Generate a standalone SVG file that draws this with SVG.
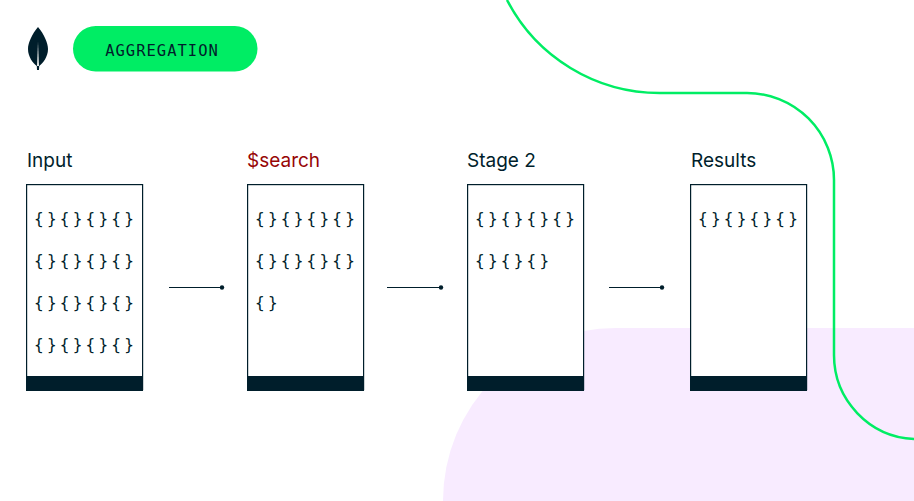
<svg xmlns="http://www.w3.org/2000/svg" width="914" height="501" viewBox="0 0 914 501">
<style>
.t{font-family:"Inter","Noto Sans","Liberation Sans",sans-serif;font-size:19px;fill:#001e2b}
.b{font-family:"DejaVu Sans Mono","Liberation Mono",monospace;font-size:16px;fill:#001e2b;letter-spacing:3.25px}
.box{fill:#fff;stroke:#001e2b;stroke-width:1.2}
.foot{fill:#001e2b}
.c{stroke:#001e2b;stroke-width:1.2;fill:none}
.d{fill:#001e2b}
</style>
<rect width="914" height="501" fill="#fff"/>
<path d="M443 501A173 173 0 0 1 616 328H914V501Z" fill="#f8ebff"/>
<path d="M507 0A172 172 0 0 0 660 93H747A87 87 0 0 1 834 180V355A84 84 0 0 0 914 439" fill="none" stroke="#00ed64" stroke-width="2.500"/>
<g id="logo">
<path d="M38 27C44 34 48 43 48 49C48 57 43 63 39.200 66L39 70H37L36.800 66C33 63 28 57 28 49C28 43 32 34 38 27Z" fill="#001e2b"/>
<path d="M38 42L39 66H37Z" fill="#e8edeb"/>
</g>
<g id="badge">
<rect x="73" y="26" width="184.500" height="45.500" rx="22.700" fill="#00ed64"/>
<text x="162" y="55.500" text-anchor="middle" font-family="'DejaVu Sans Mono','Liberation Mono',monospace" font-size="15.500" letter-spacing="1" fill="#001e2b">AGGREGATION</text>
</g>
<g id="input">
<text class="t" x="27" y="167">Input</text>
<rect class="box" x="26.600" y="184.600" width="116" height="205"/>
<rect class="foot" x="26" y="376" width="117" height="15"/>
<text class="b" x="34" y="224">{}{}{}{}</text>
<text class="b" x="34" y="266">{}{}{}{}</text>
<text class="b" x="34" y="308">{}{}{}{}</text>
<text class="b" x="34" y="350">{}{}{}{}</text>
</g>
<g id="search">
<text class="t" x="247" y="167" style="fill:#970606">$search</text>
<rect class="box" x="247.600" y="184.600" width="116" height="205"/>
<rect class="foot" x="247" y="376" width="117" height="15"/>
<text class="b" x="255" y="224">{}{}{}{}</text>
<text class="b" x="255" y="266">{}{}{}{}</text>
<text class="b" x="255" y="308">{}</text>
</g>
<g id="stage2">
<text class="t" x="467" y="167">Stage 2</text>
<rect class="box" x="467.600" y="184.600" width="116" height="205"/>
<rect class="foot" x="467" y="376" width="117" height="15"/>
<text class="b" x="475" y="224">{}{}{}{}</text>
<text class="b" x="475" y="266">{}{}{}</text>
</g>
<g id="results">
<text class="t" x="691" y="167">Results</text>
<rect class="box" x="690.600" y="184.600" width="116" height="205"/>
<rect class="foot" x="690" y="376" width="117" height="15"/>
<text class="b" x="698" y="224">{}{}{}{}</text>
</g>
<g id="connectors">
<path class="c" d="M169 287.500H222"/><circle class="d" cx="222" cy="287.500" r="2.200"/>
<path class="c" d="M387 287.500H441"/><circle class="d" cx="441" cy="287.500" r="2.200"/>
<path class="c" d="M609 287.500H662"/><circle class="d" cx="662" cy="287.500" r="2.200"/>
</g>
</svg>
